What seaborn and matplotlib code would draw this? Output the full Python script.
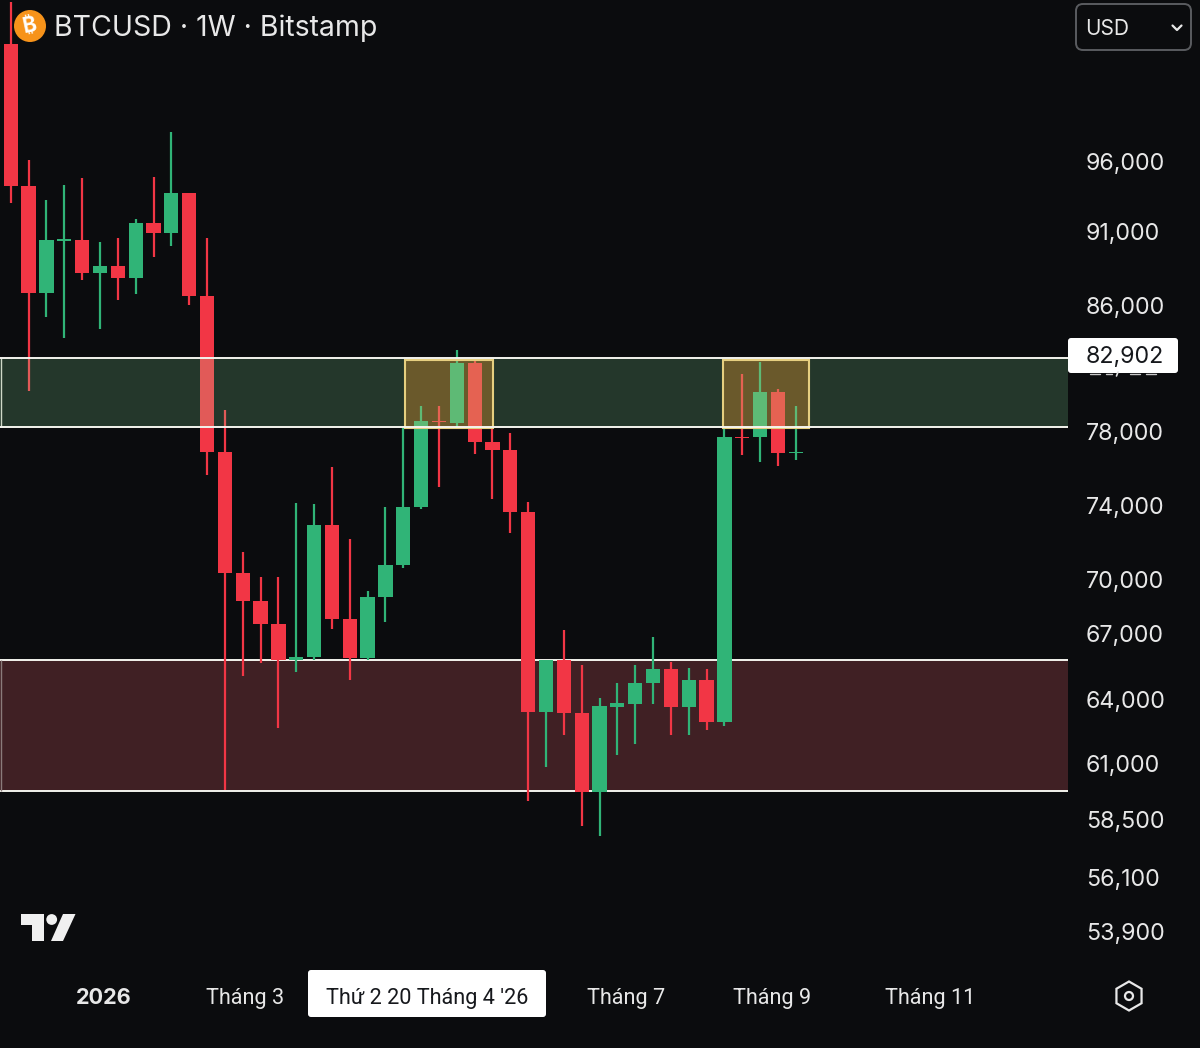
import matplotlib
matplotlib.use("Agg")
import matplotlib.pyplot as plt
from matplotlib.patches import FancyBboxPatch, Rectangle, Circle, RegularPolygon
import numpy as np
import pandas as pd
import seaborn as sns

# weekly candles
opens = [104940, 94210, 86870, 90330, 90400, 88200, 88670, 87870, 91570, 90870, 93710, 86670,
         76900, 70370, 68830, 67560, 65800, 65940, 72930, 67830, 65890, 69060, 70800, 73890,
         78700, 78570, 82380, 77450, 77010, 73630, 63390, 65800, 63340, 59730, 63620, 63770,
         64740, 65380, 63620, 64880, 62920, 77730, 77730, 80540, 76850]
closes = [94210, 86870, 90400, 90470, 88200, 88670, 87870, 91570, 90870, 93710, 86670, 76900,
          70370, 68830, 67560, 65800, 65940, 72930, 67830, 65890, 69060, 70800, 73890, 78700,
          78630, 82380, 77450, 77010, 73630, 63390, 65800, 63340, 59730, 63670, 63810, 64740,
          65380, 63620, 64880, 62920, 77730, 77670, 80540, 76850, 76900]
highs = [108150, 96080, 93210, 94290, 94790, 90270, 90530, 91860, 94860, 98220, 93710, 90530,
         79400, 71490, 70160, 70160, 74110, 74050, 76080, 72190, 69390, 73890, 78250, 79650,
         79650, 83210, 82570, 78250, 77950, 74160, 65800, 67220, 65570, 64050, 64740, 65570,
         66860, 65710, 65430, 65380, 78250, 81680, 82440, 80730, 79650]
lows = [93000, 80600, 85300, 83970, 87730, 84540, 86400, 86800, 89270, 90000, 86070, 75640,
        59820, 65060, 65660, 62640, 65250, 65800, 67280, 64880, 65800, 67670, 70640, 73790,
        74990, 78320, 76790, 74330, 72510, 59330, 60820, 62310, 58250, 57840, 61380, 61890,
        63770, 62310, 62310, 62550, 62730, 76740, 76360, 76140, 76470]

price_ticks = [96000, 91000, 86000, 82902, 78000, 74000, 70000, 67000, 64000, 61000, 58500, 56100, 53900]
time_ticks = ["2026", "Tháng 3", "Thứ 2 20 Tháng 4 '26", "Tháng 7", "Tháng 9", "Tháng 11"]
time_tick_weeks = [5.22, 13.13, 23.33, 34.48, 42.67, 51.52]

# the price axis is not quite even, so it follows the printed labels
scale_prices = [52760, 53900, 56100, 58500, 61000, 64000, 67000, 70000, 74000, 78000, 86000, 91000, 96000, 108300]
scale_rows = [960, 932, 878, 820, 763, 699, 634, 580, 505, 432, 306, 231, 161, 0]

green_zone = (78290, 82670)
red_zone = (59770, 65780)
box_price = (78250, 82570)
boxes = [(22.1, 27.03), (39.92, 44.74)]

BG = "#0b0c0e"
UP = "#30b477"
DOWN = "#f23645"
LINE = "#f4f4ee"
TXT = "#e8e8e8"
X0, X1 = -0.605, 59.26


def to_row(v):
    return np.interp(np.asarray(v, dtype=float), scale_prices, -np.array(scale_rows, dtype=float))


def to_price(v):
    return np.interp(np.asarray(v, dtype=float), -np.array(scale_rows, dtype=float), scale_prices)


sns.set_theme(style="dark", rc={"figure.facecolor": BG, "axes.grid": False})
plt.rcParams["font.family"] = ["Inter", "DejaVu Sans"]

df = pd.DataFrame({"week": range(len(opens)), "open": opens, "close": closes, "high": highs, "low": lows})
df["dir"] = np.where(df["close"] >= df["open"], "up", "down")
df["bottom"] = df[["open", "close"]].min(axis=1)
df["body"] = (df["open"] - df["close"]).abs()

fig = plt.figure(figsize=(12, 10.48), dpi=100, facecolor=BG)

# screen furniture sits behind the chart axes
ui = fig.add_axes([0, 0, 1, 1], zorder=0)
ui.set_xlim(0, 1200)
ui.set_ylim(1048, 0)
ui.axis("off")

ax = fig.add_axes([0, 88 / 1048, 1068 / 1200, 960 / 1048], zorder=1)
ax.patch.set_visible(False)

for d, col in [("up", UP), ("down", DOWN)]:
    part = df[df["dir"] == d]
    sns.barplot(data=part, x="week", y="body", bottom=part["bottom"].values, native_scale=True,
                color=col, saturation=1, width=0.8, errorbar=None, linewidth=0, zorder=3, ax=ax)

wicks = df.melt(id_vars=["week", "dir"], value_vars=["high", "low"], value_name="price")
sns.lineplot(data=wicks, x="week", y="price", units="week", hue="dir", estimator=None, sort=False,
             palette={"up": UP, "down": DOWN}, linewidth=1.6, solid_capstyle="butt", legend=False,
             zorder=3, ax=ax)

ax.set_yscale("function", functions=(to_row, to_price))
ax.set_ylim(52760, 108300)
ax.set_xlim(X0, X1)

ax.axhspan(*red_zone, facecolor="#402024", edgecolor="none", zorder=1)
ax.axhspan(*green_zone, facecolor=(0.59, 1.0, 0.70, 0.18), edgecolor="none", zorder=4)
ax.hlines(list(red_zone), X0, X1, color=LINE, linewidth=1.4, zorder=2)
ax.hlines(list(green_zone), X0, X1, color=LINE, linewidth=1.4, zorder=5.5)
ax.vlines(-0.56, green_zone[0], green_zone[1], color="#cfd8c8", linewidth=1, zorder=4.5)
ax.vlines(-0.56, red_zone[0], red_zone[1], color="#8a7a7a", linewidth=1, zorder=2)
for x0, x1 in boxes:
    # one layer under the candles for the box colour, a light one over them for the tint
    ax.add_patch(Rectangle((x0, box_price[0]), x1 - x0, box_price[1] - box_price[0],
                           facecolor="#42290d", edgecolor="none", zorder=2.5))
    ax.add_patch(Rectangle((x0, box_price[0]), x1 - x0, box_price[1] - box_price[0],
                           facecolor=(1.0, 0.59, 0.2, 0.15), edgecolor="#e6cf80", linewidth=1.5, zorder=5))

ax.set_xlabel("")
ax.set_ylabel("")
for s in ax.spines.values():
    s.set_visible(False)
ax.minorticks_off()
ax.yaxis.tick_right()
ax.set_yticks(price_ticks)
ax.set_yticklabels([f"{p:,}" for p in price_ticks], fontsize=16.7, color=TXT)
ax.set_xticks(time_tick_weeks)
ax.set_xticklabels(time_ticks, fontsize=15.6, color=TXT, family=["Roboto", "DejaVu Sans"])
ax.tick_params(axis="y", length=0, pad=13)
ax.tick_params(axis="x", length=0, pad=20)
ax.yaxis.set_minor_locator(plt.NullLocator())
ax.get_yticklabels()[price_ticks.index(82902)].set_color("#16181c")
ax.get_xticklabels()[2].set_color("#16181c")
ax.get_xticklabels()[0].set_fontweight("bold")
ax.get_xticklabels()[0].set_family(["Inter", "DejaVu Sans"])

# header
ui.add_patch(Circle((30, 26), 16, facecolor="#f7931a", edgecolor="none"))
ui.text(30, 26, "₿", color="white", fontsize=15, fontweight="bold", ha="center", va="center",
        rotation=12, family=["Inter", "Noto Sans", "Roboto", "Open Sans", "Lato", "DejaVu Sans"])
ui.text(54, 28, "BTCUSD · 1W · Bitstamp", color=TXT, fontsize=20.5, va="center", ha="left")
ui.add_patch(FancyBboxPatch((1080, 8), 107, 38, boxstyle="round,pad=4,rounding_size=7",
                            facecolor=BG, edgecolor="#5a5c60", linewidth=1.4))
ui.text(1085, 29, "USD", color=TXT, fontsize=15, va="center", ha="left")
ui.plot([1172.5, 1177, 1181.5], [25.5, 30, 25.5], color=TXT, linewidth=1.6)

# last price tag, with the bits of the covered label peeking out under it
for a, b in [(1090, 1100), (1106, 1112), (1130, 1140), (1146, 1156)]:
    ui.plot([a, b], [373.5, 373.5], color="#c8c8c8", linewidth=1)
ui.plot([1118, 1116.5], [372, 376], color="#e0e0e0", linewidth=1.2)
ui.add_patch(FancyBboxPatch((1070, 340), 106, 31, boxstyle="round,pad=2,rounding_size=3",
                            facecolor="white", edgecolor="none"))

# crosshair time tag
ui.add_patch(FancyBboxPatch((310, 972), 234, 43, boxstyle="round,pad=2,rounding_size=3",
                            facecolor="white", edgecolor="none"))

# tradingview mark
ui.fill([20.5, 43.5, 43.5, 32, 32, 20.5], [914, 914, 941, 941, 925, 925], color="#f0f0f0", linewidth=0)
ui.add_patch(Circle((51.7, 919.5), 5.4, facecolor="#f0f0f0", edgecolor="none"))
ui.fill([63, 75.5, 63, 51], [914, 914, 941, 941], color="#f0f0f0", linewidth=0)

# settings icon
ui.add_patch(RegularPolygon((1129, 996), 6, radius=14.5, facecolor="none", edgecolor=TXT, linewidth=1.6))
ui.add_patch(Circle((1129, 996), 4, facecolor="none", edgecolor=TXT, linewidth=1.6))

fig.savefig("out.png", dpi=100, facecolor=BG)
